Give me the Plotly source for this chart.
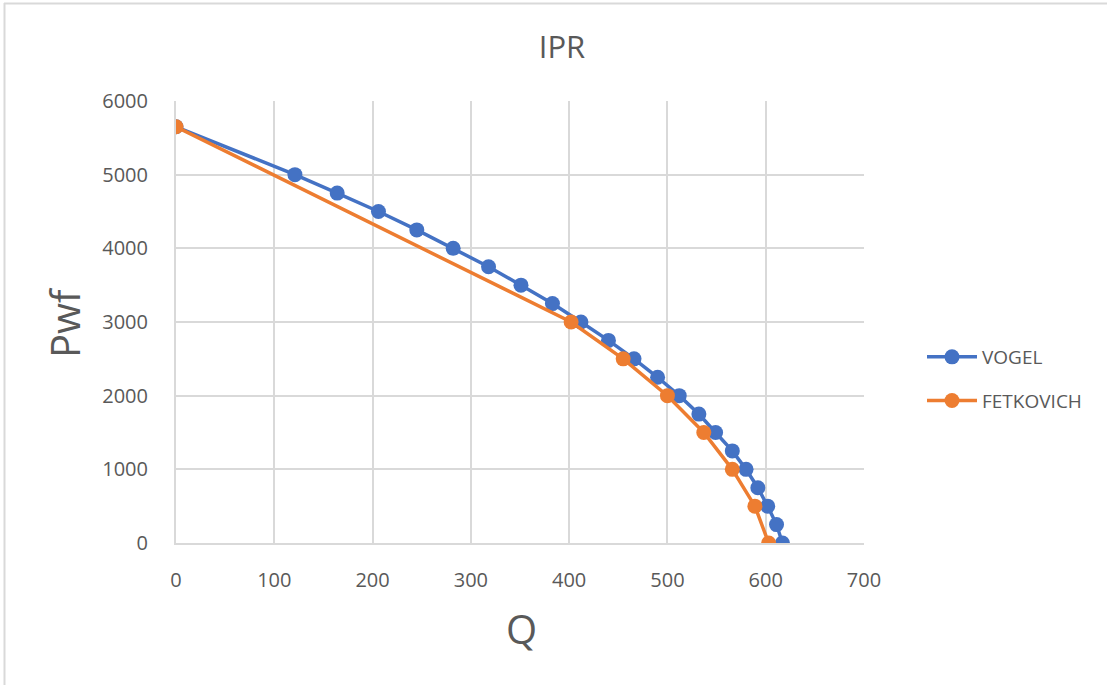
import plotly.graph_objects as go

pwf_vogel = [5650, 5000, 4750, 4500, 4250, 4000, 3750, 3500, 3250, 3000, 2750, 2500,
             2250, 2000, 1750, 1500, 1250, 1000, 750, 500, 250, 0]
q_vogel = [0, 121, 164, 206, 245, 282, 318, 351, 383, 412, 440, 466,
           490, 512, 532, 549, 566, 580, 592, 602, 611, 617]

pwf_fet = [5650, 3000, 2500, 2000, 1500, 1000, 500, 0]
q_fet = [0, 402, 455, 500, 537, 566, 589, 603]

x_ticks = [0, 100, 200, 300, 400, 500, 600, 700]
y_ticks = [0, 1000, 2000, 3000, 4000, 5000, 6000]

BLUE = "#4472C4"
ORANGE = "#ED7D31"
TXT = "#595959"
GRID = "#D9D9D9"
FONT = "Open Sans"

fig = go.Figure()
fig.add_trace(go.Scatter(x=q_vogel, y=pwf_vogel, name="VOGEL", mode="lines+markers",
                         legendgroup="v",
                         line=dict(color=BLUE, width=3.5), marker=dict(size=15, color=BLUE)))
fig.add_trace(go.Scatter(x=q_fet, y=pwf_fet, name="FETKOVICH", mode="lines+markers",
                         legendgroup="f",
                         line=dict(color=ORANGE, width=3.5), marker=dict(size=15, color=ORANGE)))

L, R, T, B = 176, 243, 101, 142
W, H = 1107, 685
pw, ph = W - L - R, H - T - B

fig.update_layout(
    width=W, height=H,
    margin=dict(l=L, r=R, t=T, b=B, autoexpand=False),
    paper_bgcolor="white", plot_bgcolor="white",
    font=dict(family=FONT, color=TXT, size=20),
    title=dict(text="IPR", x=(562 - L) / pw, xref="paper", xanchor="center",
               y=1 - 47 / H, yanchor="middle", font=dict(size=31, color=TXT, family=FONT)),
    xaxis=dict(range=[0, 700], tickvals=x_ticks, showgrid=True, gridcolor=GRID, gridwidth=2,
               zeroline=False, showline=True, linecolor=GRID, linewidth=2, ticks="",
               ticklabelstandoff=18, tickfont=dict(size=20, color=TXT)),
    yaxis=dict(range=[0, 6000], tickvals=y_ticks, showgrid=True, gridcolor=GRID, gridwidth=2,
               zeroline=False, showline=True, linecolor=GRID, linewidth=2, ticks="",
               ticklabelstandoff=22, tickfont=dict(size=20, color=TXT)),
    showlegend=True,
    legend=dict(x=(922 - L) / pw, xanchor="left", y=(543 - 379) / ph, yanchor="middle",
                font=dict(size=19, color=TXT, family=FONT), tracegroupgap=16,
                itemwidth=50, bgcolor="rgba(0,0,0,0)"),
    annotations=[
        dict(text="Q", x=(521 - L) / pw, xref="paper", y=-(628 - 543) / ph, yref="paper",
             showarrow=False, xanchor="center", yanchor="middle",
             font=dict(size=40, color=TXT, family=FONT)),
        dict(text="Pwf", x=-(176 - 64) / pw, xref="paper", y=(543 - 322) / ph, yref="paper",
             showarrow=False, xanchor="center", yanchor="middle", textangle=-90,
             font=dict(size=40, color=TXT, family=FONT)),
    ],
    shapes=[
        dict(type="line", xref="paper", yref="paper",
             x0=(4.5 - L) / pw, x1=(4.5 - L) / pw, y0=(543 - 3) / ph, y1=(543 - 690) / ph,
             line=dict(color=GRID, width=2)),
        dict(type="line", xref="paper", yref="paper",
             x0=(4 - L) / pw, x1=(1110 - L) / pw, y0=(543 - 3.5) / ph, y1=(543 - 3.5) / ph,
             line=dict(color=GRID, width=2)),
    ],
)

fig.write_html("out.html")
